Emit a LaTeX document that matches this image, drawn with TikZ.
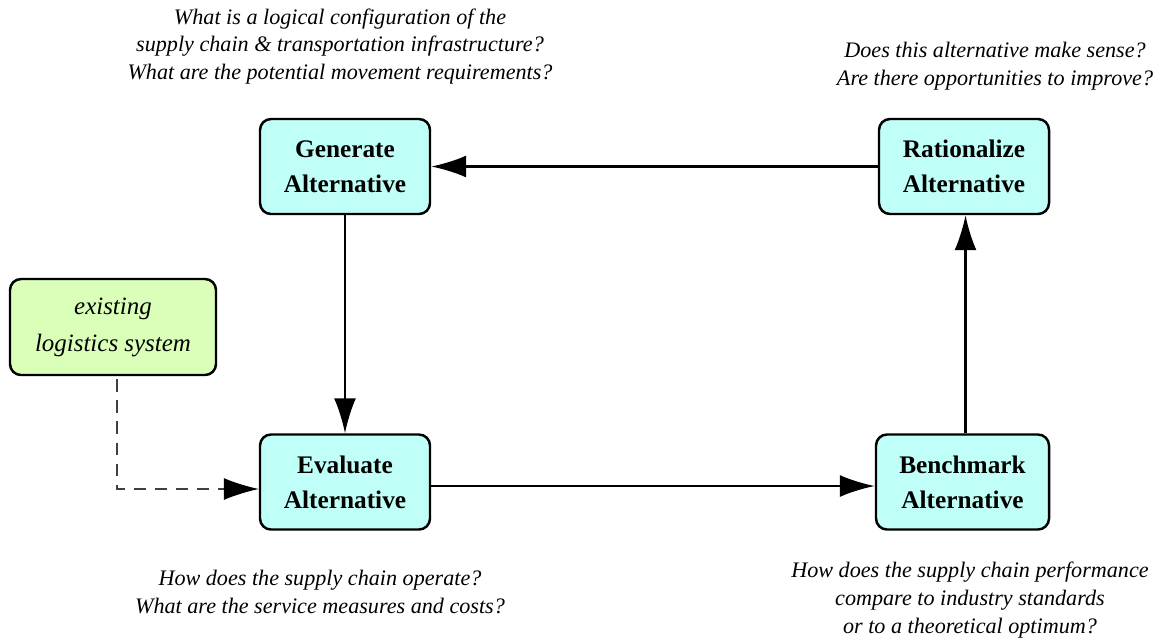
\documentclass[tikz,border=0pt]{standalone}
\usepackage{fontspec}
\setmainfont{LiberationSerif-Regular.ttf}[BoldFont=LiberationSerif-Bold.ttf, ItalicFont=LiberationSerif-Italic.ttf, BoldItalicFont=LiberationSerif-BoldItalic.ttf]
\usetikzlibrary{arrows.meta,calc,positioning}
\definecolor{stageCyan}{HTML}{C0FFF8}
\definecolor{inputGreen}{HTML}{DAFFB8}
\tikzset{
  arrow/.style={-{Latex[length=0.7cm,width=0.44cm]}, draw=black, line width=1.3pt},
  dasharrow/.style={-{Latex[length=0.7cm,width=0.44cm,black]}, draw=black!75, dashed, dash pattern=on 7pt off 5pt, line width=0.7pt},
  stage/.style={rectangle, rounded corners=0.22cm, draw=black, line width=1.4pt, fill=stageCyan, minimum width=3.4cm, minimum height=1.9cm, align=center, font=\rmfamily\fontsize{14.4}{20}\selectfont\bfseries},
  input/.style={rectangle, rounded corners=0.22cm, draw=black, line width=1.4pt, fill=inputGreen, minimum width=4.12cm, minimum height=1.92cm, align=center, font=\rmfamily\fontsize{14.2}{21}\selectfont\itshape},
  question/.style={align=center, font=\rmfamily\fontsize{12.6}{15.9}\selectfont\itshape}
}

\begin{document}
\begin{tikzpicture}[x=1cm,y=1cm]
\useasboundingbox (0,0) rectangle (23.48,-12.78);

% --------------------------------------------------------------------------
% the four stages of the loop
% --------------------------------------------------------------------------
\node[stage] (generate) at (6.90,-3.33) {Generate\\Alternative};
\node[stage] (rationalize) at (19.28,-3.33) {Rationalize\\Alternative};
\node[stage] (evaluate) at (6.90,-9.64) {Evaluate\\Alternative};
\node[stage, minimum width=3.46cm] (benchmark) at (19.25,-9.64) {Benchmark\\Alternative};

\node[input] (existing) at (2.26,-6.54) {existing\\logistics system};

% questions asked at each stage
\node[question] (qGenerate) at (6.80,-0.93) {What is a logical configuration of the\\supply chain \& transportation infrastructure?\\What are the potential movement requirements?};
\node[question] (qRationalize) at (19.90,-1.33) {Does this alternative make sense?\\Are there opportunities to improve?};
\node[question] (qEvaluate) at (6.40,-11.84) {How does the supply chain operate?\\What are the service measures and costs?};
\node[question] (qBenchmark) at (19.40,-12.00) {How does the supply chain performance\\compare to industry standards\\or to a theoretical optimum?};

% connectors
\draw[arrow] (rationalize.west) -- (generate.east);
\draw[arrow] (generate.south) -- (evaluate.north);
\draw[arrow] ([yshift=-0.08cm]evaluate.east) -- ([yshift=-0.08cm]benchmark.west);
\draw[arrow] ([xshift=0.06cm]benchmark.north) -- ([xshift=0.06cm]benchmark.north |- rationalize.south);
\draw[dasharrow] ([xshift=0.08cm,yshift=-0.06cm]existing.south) |- ([yshift=-0.14cm]evaluate.west);

\end{tikzpicture}
\end{document}
